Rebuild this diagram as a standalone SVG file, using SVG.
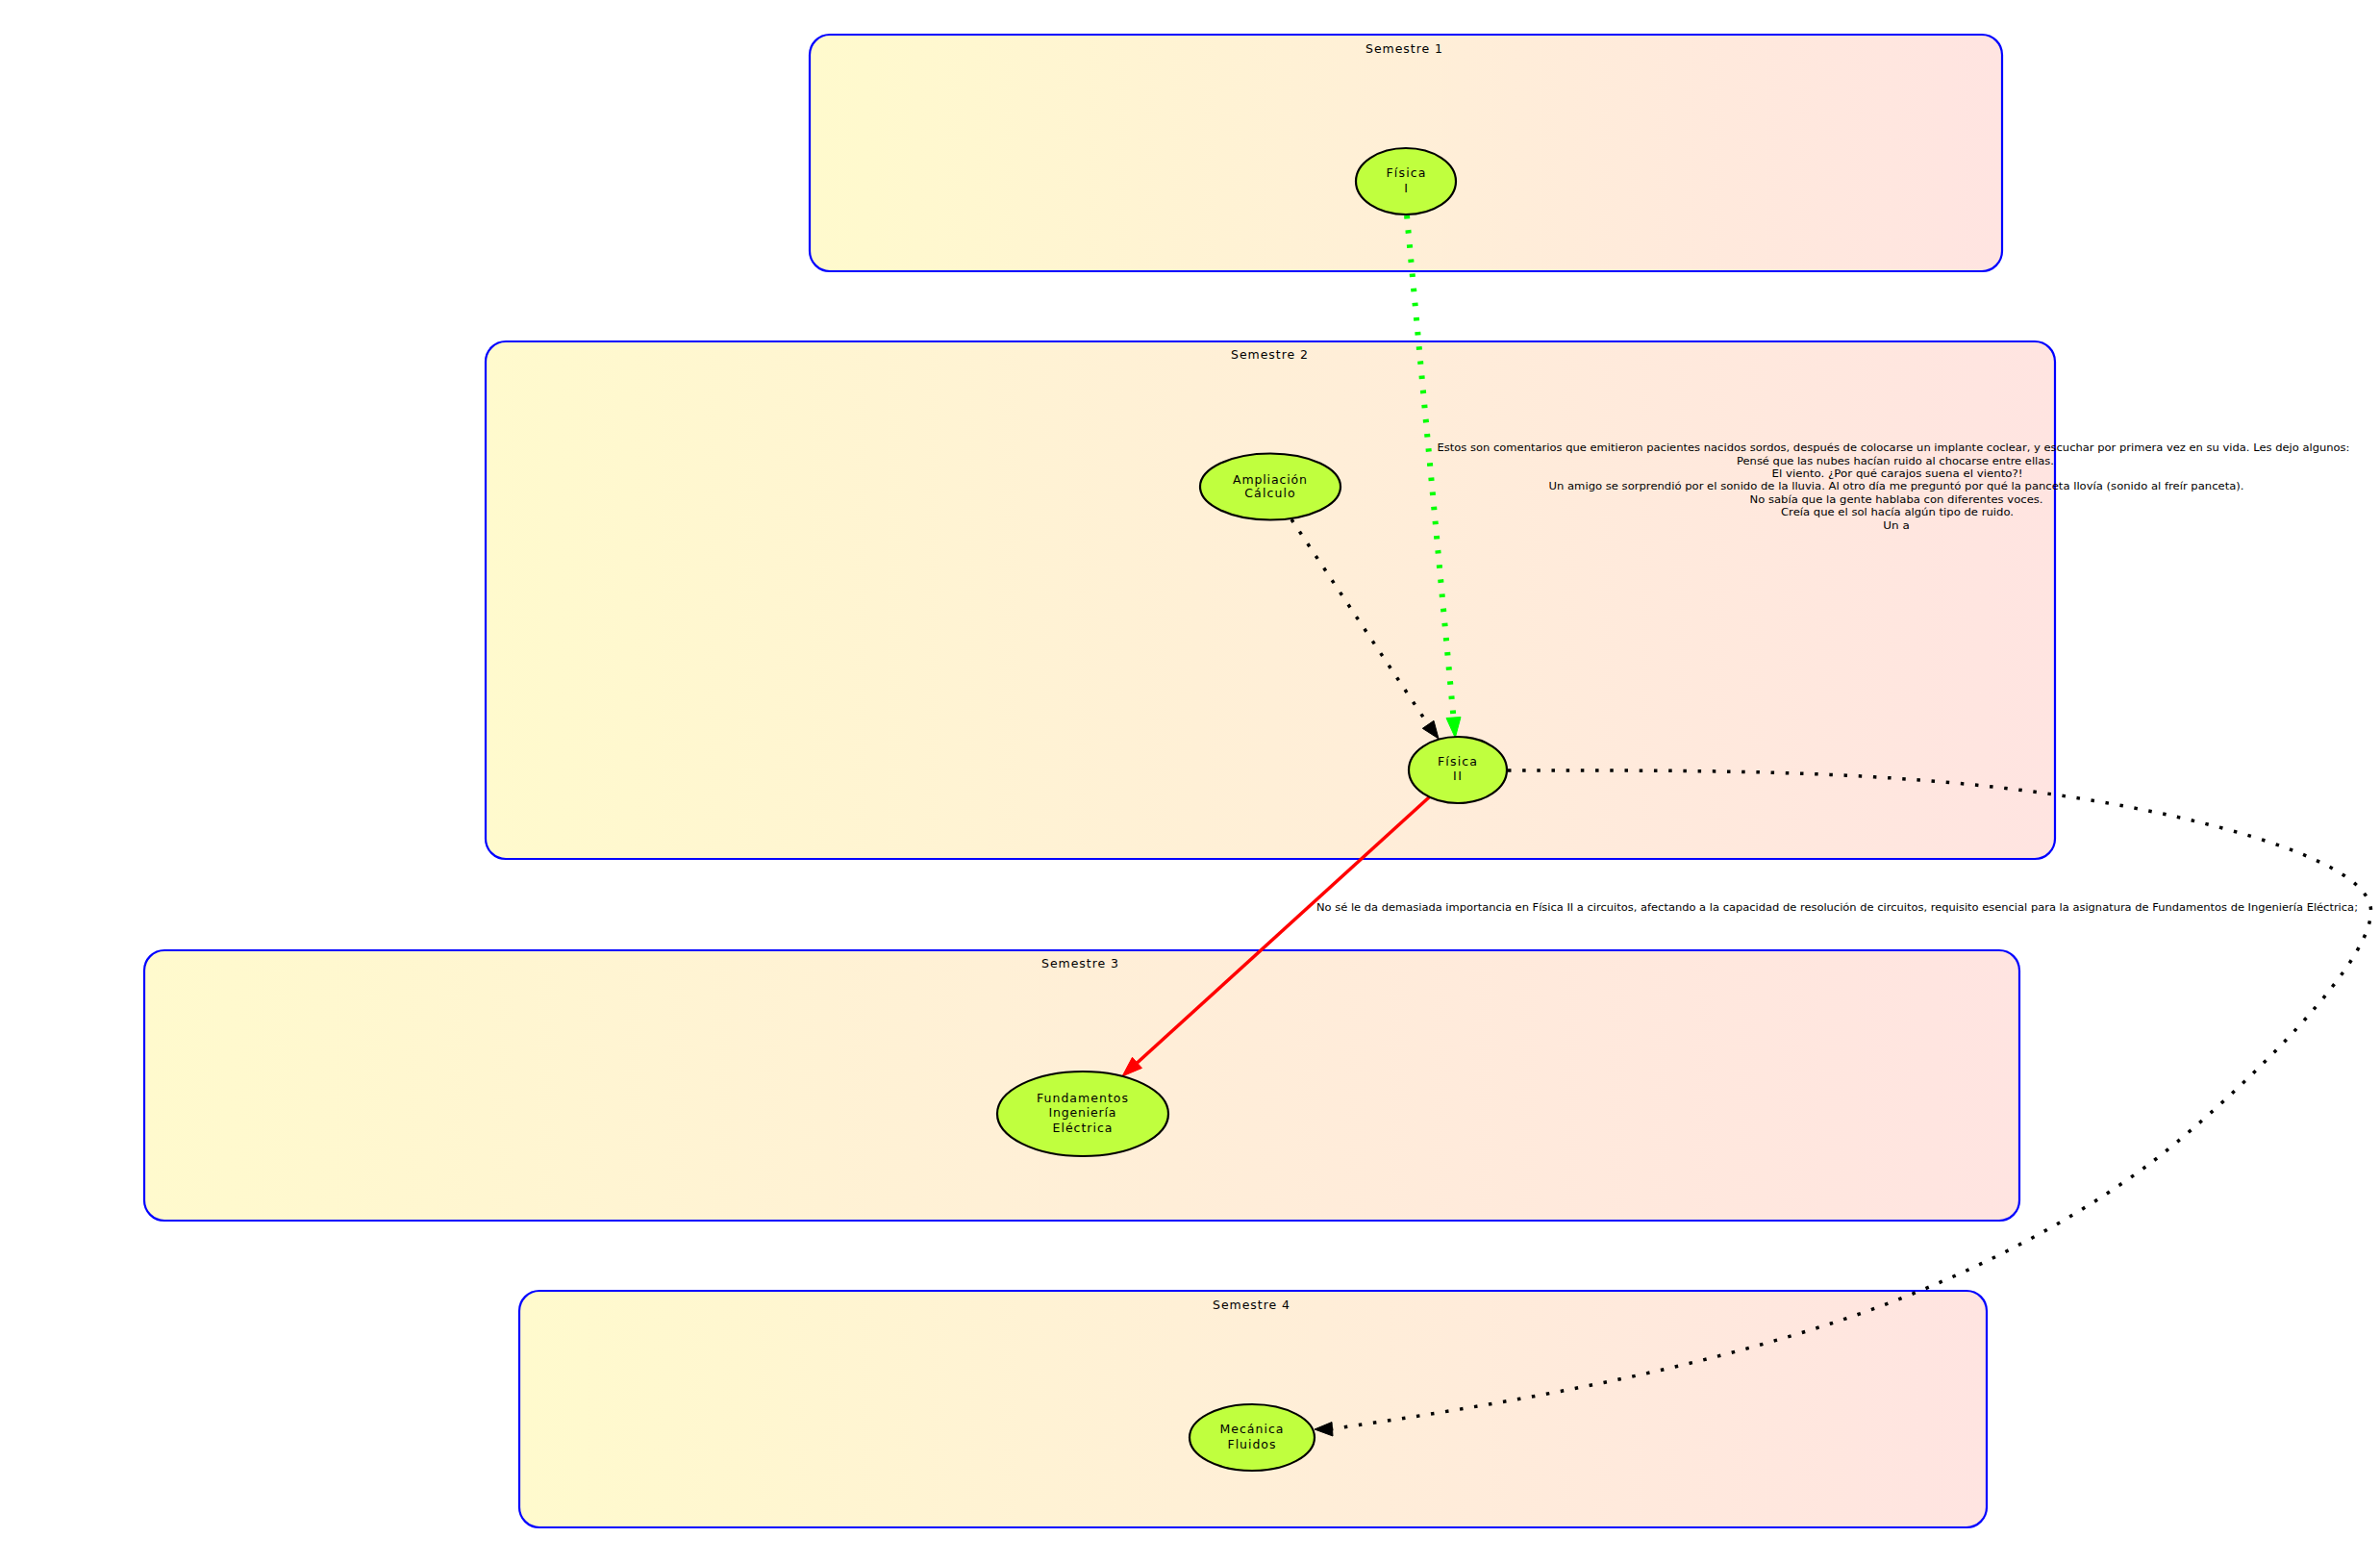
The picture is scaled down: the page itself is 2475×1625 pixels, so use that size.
<svg xmlns="http://www.w3.org/2000/svg" width="2475" height="1625" viewBox="0 0 2475 1625">
<defs>
<linearGradient id="cg" x1="0" y1="0" x2="1" y2="0">
<stop offset="0" stop-color="#FFFACD"/>
<stop offset="1" stop-color="#FFE4E1"/>
</linearGradient>
<style>
.cl{fill:url(#cg);stroke:#0000FF;stroke-width:2.2}
.nd{fill:#C0FF3E;stroke:#000;stroke-width:2.2}
text{font-family:"DejaVu Sans","Liberation Sans",sans-serif;fill:#000;text-anchor:middle}
.ct{font-size:12.5px}
.nt{font-size:12.5px}
.et{font-size:11px}
.dk{fill:none;stroke:#000;stroke-width:3.5;stroke-dasharray:3.5 11.7}
.dg{fill:none;stroke:#00FF00;stroke-width:6;stroke-dasharray:3.5 11.7}
.rd{fill:none;stroke:#FF0000;stroke-width:3.5}
</style>
</defs>
<rect width="2475" height="1625" fill="#fff"/>
<g id="cluster1">
<rect class="cl" x="842" y="36" width="1240" height="246" rx="21" ry="21"/>
<text class="ct" x="1460" y="55" textLength="80">Semestre 1</text>
</g>
<g id="cluster2">
<rect class="cl" x="505" y="355" width="1632" height="538" rx="21" ry="21"/>
<text class="ct" x="1320" y="373" textLength="80">Semestre 2</text>
</g>
<g id="cluster3">
<rect class="cl" x="150" y="988" width="1950" height="281" rx="21" ry="21"/>
<text class="ct" x="1123" y="1006" textLength="80">Semestre 3</text>
</g>
<g id="cluster4">
<rect class="cl" x="540" y="1342" width="1526" height="246" rx="21" ry="21"/>
<text class="ct" x="1301" y="1361" textLength="80">Semestre 4</text>
</g>
<g id="edges">
<path class="dg" d="M1463,224 L1511.5,746"/>
<polygon points="1513.3,767 1504,746.5 1519,745.5" fill="#00FF00" stroke="#00FF00" stroke-width="1"/>
<path class="dk" d="M1343,540 L1485,753"/>
<polygon points="1496,768 1479.3,757.3 1491,749.3" fill="#000" stroke="#000" stroke-width="1"/>
<path class="rd" d="M1486,829 L1182.5,1105"/>
<polygon points="1167,1119 1187.5,1110.4 1177.5,1099.3" fill="#FF0000" stroke="#FF0000" stroke-width="1"/>
<path class="dk" d="M1568,801 C1798,801 2033,798.5 2258,848 C2330,864 2465.6,900 2465.6,947.5 C2465.6,1010 2298,1163.4 2234,1211 C2137.5,1282.4 2018,1339 1904,1376 C1737.6,1430 1558,1460.5 1385,1485.7"/>
<polygon points="1367,1486 1385,1478.5 1386,1493" fill="#000" stroke="#000" stroke-width="1"/>
<text class="et" x="1969" y="469" textLength="949" lengthAdjust="spacingAndGlyphs">Estos son comentarios que emitieron pacientes nacidos sordos, después de colocarse un implante coclear, y escuchar por primera vez en su vida. Les dejo algunos:</text>
<text class="et" x="1971" y="482.5" textLength="330" lengthAdjust="spacingAndGlyphs">Pensé que las nubes hacían ruido al chocarse entre ellas.</text>
<text class="et" x="1973" y="496" textLength="261" lengthAdjust="spacingAndGlyphs">El viento. ¿Por qué carajos suena el viento?!</text>
<text class="et" x="1972" y="509.4" textLength="723" lengthAdjust="spacingAndGlyphs">Un amigo se sorprendió por el sonido de la lluvia. Al otro día me preguntó por qué la panceta llovía (sonido al freír panceta).</text>
<text class="et" x="1972" y="522.8" textLength="305" lengthAdjust="spacingAndGlyphs">No sabía que la gente hablaba con diferentes voces.</text>
<text class="et" x="1973" y="536.3" textLength="242" lengthAdjust="spacingAndGlyphs">Creía que el sol hacía algún tipo de ruido.</text>
<text class="et" x="1972" y="549.7" textLength="27.5" lengthAdjust="spacingAndGlyphs">Un a</text>
<text class="et" x="1910.5" y="947" textLength="1083" lengthAdjust="spacingAndGlyphs">No sé le da demasiada importancia en Física II a circuitos, afectando a la capacidad de resolución de circuitos, requisito esencial para la asignatura de Fundamentos de Ingeniería Eléctrica;</text>
</g>
<g id="fisica1">
<ellipse class="nd" cx="1462" cy="188.5" rx="52" ry="34.5"/>
<text class="nt" x="1462" y="184" textLength="41">Física</text>
<text class="nt" x="1462" y="199.5">I</text>
</g>
<g id="ampliacion">
<ellipse class="nd" cx="1321" cy="506" rx="73" ry="34.5"/>
<text class="nt" x="1320.5" y="502.5" textLength="77">Ampliación</text>
<text class="nt" x="1320.5" y="517" textLength="52.5">Cálculo</text>
</g>
<g id="fisica2">
<ellipse class="nd" cx="1516" cy="800.5" rx="51" ry="34.5"/>
<text class="nt" x="1515.5" y="796" textLength="41">Física</text>
<text class="nt" x="1515.5" y="811.3" textLength="9">II</text>
</g>
<g id="fundamentos">
<ellipse class="nd" cx="1126" cy="1158" rx="89" ry="44"/>
<text class="nt" x="1125.5" y="1146" textLength="95">Fundamentos</text>
<text class="nt" x="1125.5" y="1161" textLength="70">Ingeniería</text>
<text class="nt" x="1125.5" y="1176.5" textLength="62">Eléctrica</text>
</g>
<g id="mecanica">
<ellipse class="nd" cx="1302" cy="1494.5" rx="65" ry="34.5"/>
<text class="nt" x="1301.5" y="1490" textLength="66">Mecánica</text>
<text class="nt" x="1301.5" y="1505.5" textLength="50">Fluidos</text>
</g>
</svg>
